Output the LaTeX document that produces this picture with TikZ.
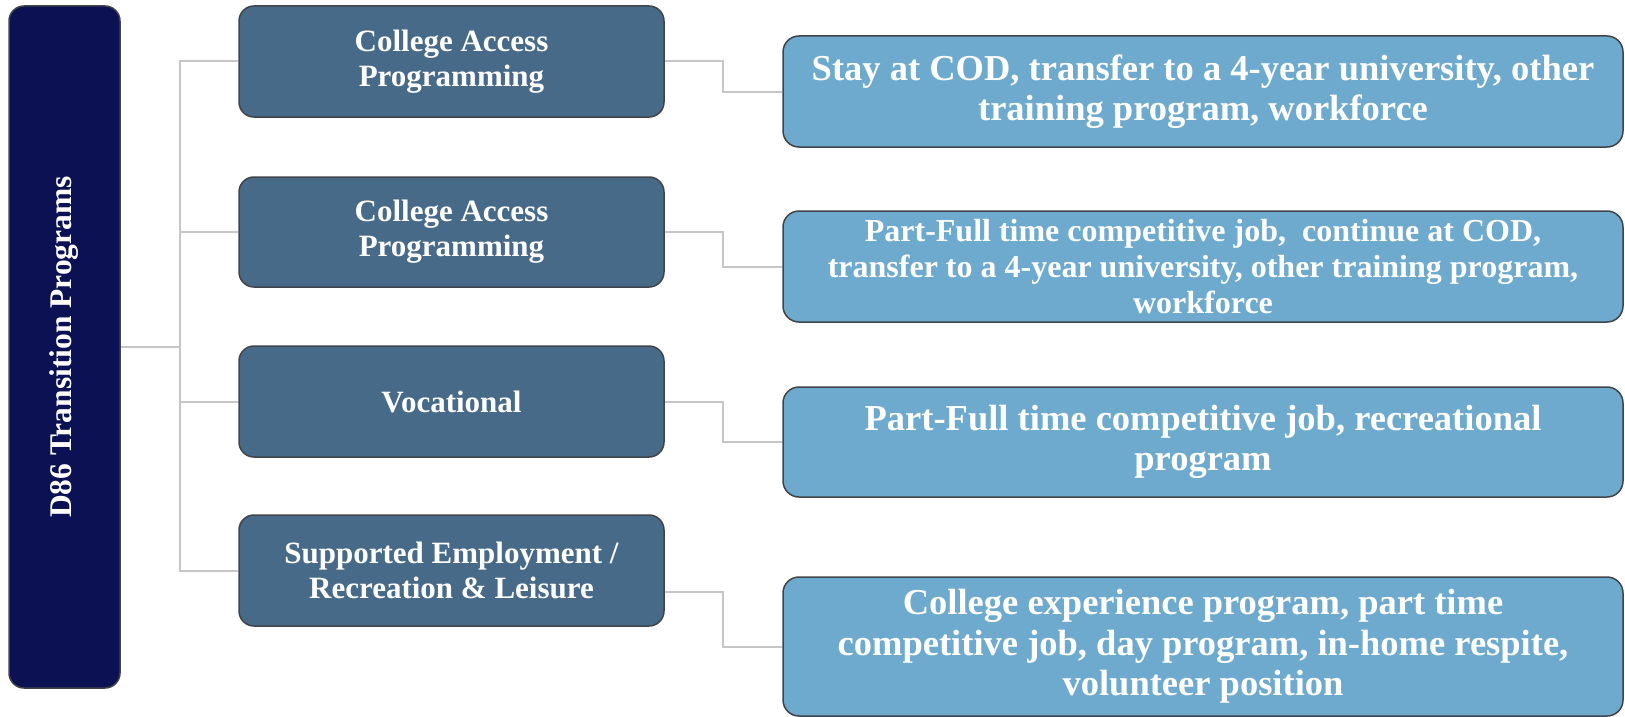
\documentclass[tikz,border=0pt]{standalone}
\usepackage{fontspec}
\setmainfont{Liberation Serif}
\begin{document}
\begin{tikzpicture}[x=1pt,y=-1pt,
  rootbox/.style={draw=boxline,line width=1.5pt,fill=navy,rounded corners=15pt,
    minimum width=111pt,minimum height=682pt,inner sep=0pt},
  midbox/.style={draw=boxline,line width=1.5pt,fill=slate,rounded corners=15pt,
    minimum width=425pt,minimum height=111pt,inner sep=0pt,text=white,align=center,
    font=\fontsize{31}{35}\selectfont\bfseries},
  outbox/.style={draw=boxline,line width=1.5pt,fill=sky,rounded corners=16pt,
    minimum width=840pt,minimum height=111pt,inner sep=0pt,text=white,align=center,
    font=\fontsize{36.5}{40.5}\selectfont\bfseries},
  conn/.style={draw=linegray,line width=2pt}]
\definecolor{navy}{HTML}{0B1153}
\definecolor{slate}{HTML}{476A89}
\definecolor{sky}{HTML}{6DAACD}
\definecolor{boxline}{HTML}{404448}
\definecolor{linegray}{HTML}{C6C6C6}
\useasboundingbox (0,0) rectangle (1625,717);

% root of the tree
\node[rootbox] (root) at (64.5,347) {};
\node[rotate=90,text=white,font=\fontsize{31.5}{35}\selectfont\bfseries] (roottext) at (root.center) {D86 Transition Programs};

% programs
\node[midbox] (m1) at (451.5,61.5) {College Access\\Programming};
\node[midbox,minimum height=110pt] (m2) at (451.5,232) {College Access\\Programming};
\node[midbox] (m3) at (451.5,401.5) {Vocational};
\node[midbox] (m4) at (451.5,570.5) {Supported Employment /\\Recreation \& Leisure};

% outcomes
\node[outbox] (r1) at (1203,91.5) {Stay at COD, transfer to a 4-year university, other\\training program, workforce};
\node[outbox,font=\fontsize{32}{36}\selectfont\bfseries] (r2) at (1203,266.5) {Part-Full time competitive job,\ \ continue at COD,\\transfer to a 4-year university, other training program,\\workforce};
\node[outbox,minimum height=110pt] (r3) at (1203,442) {Part-Full time competitive job, recreational\\program};
\node[outbox,minimum height=139pt] (r4) at (1203,646.5) {College experience program, part time\\competitive job, day program, in-home respite,\\volunteer position};

% tree connectors
\coordinate (sp) at (179.5,347);
\draw[conn] (root.east) -- (sp);
\draw[conn] (m1.west) -| (sp);
\draw[conn] (m4.west) -| (sp);
\draw[conn] (m2.west) -- (m2.west -| sp);
\draw[conn] (m3.west) -- (m3.west -| sp);

% elbow connectors to outcomes
\draw[conn] (m1.east) -- ++(58.5,0) |- (r1.west);
\draw[conn] (m2.east) -- ++(58.5,0) |- (r2.west);
\draw[conn] (m3.east) -- ++(58.5,0) |- (r3.west);
\draw[conn] ([yshift=-21.5pt]m4.east) -- ++(58.5,0) |- (r4.west);
\end{tikzpicture}
\end{document}
